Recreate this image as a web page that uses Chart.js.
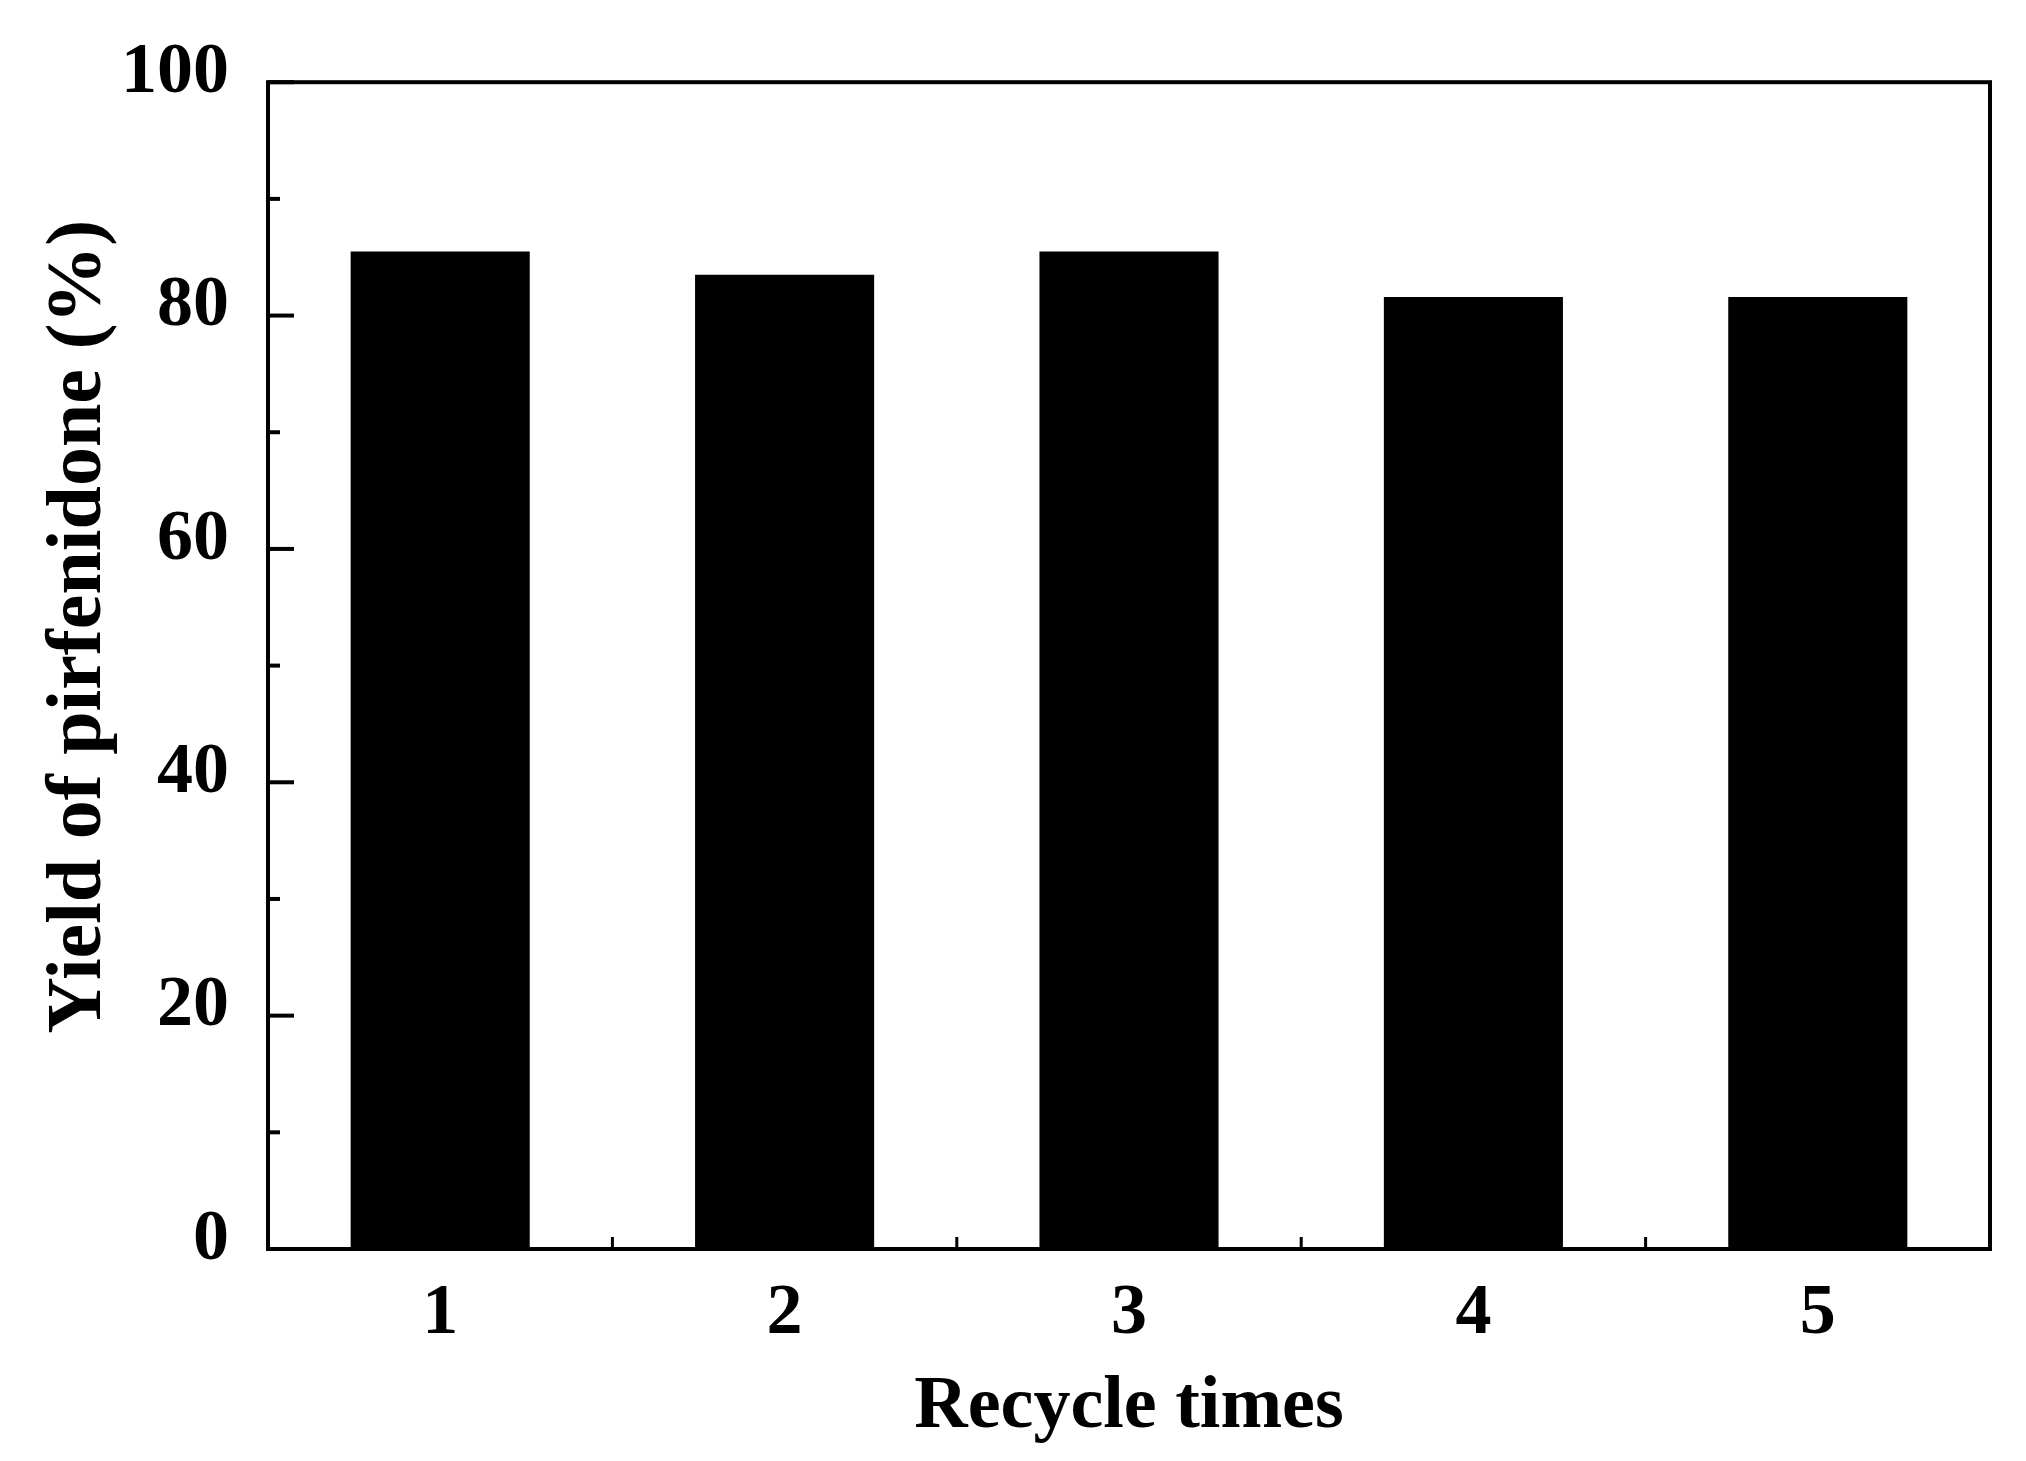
<!DOCTYPE html>
<html>
<head>
<meta charset="utf-8">
<script src="https://cdn.jsdelivr.net/npm/chart.js@4"></script>
<style>
html,body{margin:0;padding:0;background:#fff;}
canvas{display:block;}
</style>
</head>
<body>
<canvas id="c" width="2026" height="1461"></canvas>
<script>
const categories = ['1', '2', '3', '4', '5'];
const yieldValues = [85.5, 83.5, 85.5, 81.6, 81.6];
const yMajorTicks = [0, 20, 40, 60, 80, 100];
const yMinorTicks = [10, 30, 50, 70, 90];
const xTitle = 'Recycle times';
const yTitle = 'Yield of pirfenidone (%)';

const FONT = "'Liberation Serif', 'Times New Roman', serif";

const framePlugin = {
  id: 'frame',
  afterDraw(chart) {
    const ctx = chart.ctx;
    const a = chart.chartArea;
    const xs = chart.scales.x, ys = chart.scales.y;
    ctx.save();
    ctx.strokeStyle = '#000';
    ctx.fillStyle = '#000';
    yMajorTicks.forEach(v => {
      const py = ys.getPixelForValue(v);
      ctx.fillRect(a.left, py - 2, 26, 4);
    });
    yMinorTicks.forEach(v => {
      const py = ys.getPixelForValue(v);
      ctx.fillRect(a.left, py - 2, 12, 4);
    });
    for (let i = 0; i < categories.length - 1; i++) {
      const px = (xs.getPixelForValue(i) + xs.getPixelForValue(i + 1)) / 2;
      ctx.fillRect(px - 1.5, a.bottom - 12, 3, 12);
    }
    ctx.lineWidth = 4;
    ctx.strokeRect(a.left, a.top, a.right - a.left, a.bottom - a.top);
    ctx.restore();
  }
};

new Chart(document.getElementById('c'), {
  type: 'bar',
  data: {
    labels: categories,
    datasets: [{
      data: yieldValues,
      backgroundColor: '#000',
      borderWidth: 0,
      categoryPercentage: 1.0,
      barPercentage: 0.52
    }]
  },
  options: {
    responsive: false,
    animation: false,
    devicePixelRatio: 1,
    layout: { padding: { left: 0, right: 36, top: 81, bottom: 0 } },
    plugins: { legend: { display: false }, tooltip: { enabled: false } },
    scales: {
      x: {
        type: 'category',
        offset: true,
        grid: { display: false, drawTicks: false },
        border: { display: false },
        ticks: {
          color: '#000',
          padding: 22,
          font: { family: FONT, size: 72, weight: 'bold' }
        },
        title: {
          display: true,
          text: xTitle,
          color: '#000',
          padding: { top: 0, bottom: 9 },
          font: { family: FONT, size: 74, weight: 'bold' }
        },
        afterFit(s) { s.height = 212; }
      },
      y: {
        min: 0,
        max: 100,
        grid: { display: false, drawTicks: false },
        border: { display: false },
        afterBuildTicks(s) { s.ticks = yMajorTicks.map(v => ({ value: v })); },
        ticks: {
          color: '#000',
          padding: 39,
          labelOffset: -9,
          font: { family: FONT, size: 72, weight: 'bold' }
        },
        title: {
          display: true,
          text: '    ' + yTitle,
          color: '#000',
          padding: { top: 33, bottom: 0 },
          font: { family: FONT, size: 78, weight: 'bold' }
        },
        afterFit(s) { s.width = 268; }
      }
    }
  },
  plugins: [framePlugin]
});
</script>
</body>
</html>
